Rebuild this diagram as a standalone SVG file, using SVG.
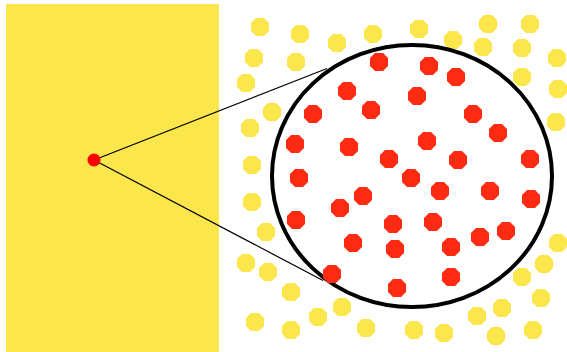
<svg xmlns="http://www.w3.org/2000/svg" width="567" height="352" viewBox="0 0 567 352">
<style>
.y{fill:#FBE64B}
.r{fill:#FF2A12}
.lens{fill:none;stroke:#000;stroke-width:4}
.ray{stroke:#000;stroke-width:1.2;fill:none}
</style>
<defs>
<path id="d" d="M-4,-9 H4 L9,-4 V4 L4,9 H-4 L-9,4 V-4 Z" stroke-linejoin="round"/>
</defs>
<rect width="567" height="352" fill="#fff"/>
<g id="slab"><rect x="6" y="4" width="213" height="348" class="y"/></g>
<g id="yellow-dots" class="y">
<use href="#d" x="260" y="27"/><use href="#d" x="300" y="34"/><use href="#d" x="337" y="43"/><use href="#d" x="373" y="34"/>
<use href="#d" x="254" y="58"/><use href="#d" x="296" y="62"/><use href="#d" x="246" y="83"/><use href="#d" x="272" y="112"/>
<use href="#d" x="250" y="128"/><use href="#d" x="252" y="165"/>
<use href="#d" x="419" y="29"/><use href="#d" x="453" y="40"/><use href="#d" x="488" y="24"/><use href="#d" x="530" y="24"/>
<use href="#d" x="483" y="47"/><use href="#d" x="522" y="48"/><use href="#d" x="557" y="58"/><use href="#d" x="522" y="77"/>
<use href="#d" x="558" y="89"/><use href="#d" x="556" y="122"/>
<use href="#d" x="252" y="202"/><use href="#d" x="266" y="232"/><use href="#d" x="246" y="263"/><use href="#d" x="268" y="272"/>
<use href="#d" x="291" y="292"/><use href="#d" x="342" y="307"/><use href="#d" x="318" y="317"/><use href="#d" x="255" y="322"/>
<use href="#d" x="291" y="330"/><use href="#d" x="366" y="328"/>
<use href="#d" x="558" y="243"/><use href="#d" x="544" y="264"/><use href="#d" x="522" y="277"/><use href="#d" x="541" y="298"/>
<use href="#d" x="502" y="308"/><use href="#d" x="477" y="316"/><use href="#d" x="414" y="330"/><use href="#d" x="444" y="333"/>
<use href="#d" x="496" y="336"/><use href="#d" x="533" y="330"/>
</g>
<g id="lens"><ellipse cx="412" cy="176" rx="140" ry="131" class="lens"/></g>
<g id="connectors">
<line x1="94" y1="160" x2="327" y2="68.5" class="ray"/>
<line x1="94" y1="160" x2="323" y2="280.5" class="ray"/>
</g>
<g id="point"><circle cx="94" cy="160" r="6.5" fill="#FF0000"/></g>
<g id="red-dots" class="r">
<use href="#d" x="379" y="62"/><use href="#d" x="347" y="91"/><use href="#d" x="313" y="114"/><use href="#d" x="371" y="110"/>
<use href="#d" x="295" y="144"/><use href="#d" x="349" y="147"/><use href="#d" x="389" y="159"/><use href="#d" x="299" y="178"/>
<use href="#d" x="429" y="66"/><use href="#d" x="456" y="77"/><use href="#d" x="417" y="96"/><use href="#d" x="473" y="114"/>
<use href="#d" x="498" y="133"/><use href="#d" x="427" y="141"/><use href="#d" x="458" y="160"/><use href="#d" x="530" y="159"/>
<use href="#d" x="363" y="196"/><use href="#d" x="340" y="208"/><use href="#d" x="296" y="220"/><use href="#d" x="353" y="243"/>
<use href="#d" x="332" y="274"/>
<use href="#d" x="411" y="178"/><use href="#d" x="440" y="191"/><use href="#d" x="490" y="191"/><use href="#d" x="531" y="199"/>
<use href="#d" x="393" y="224"/><use href="#d" x="433" y="222"/><use href="#d" x="480" y="237"/><use href="#d" x="506" y="231"/>
<use href="#d" x="395" y="249"/><use href="#d" x="451" y="247"/><use href="#d" x="451" y="277"/><use href="#d" x="397" y="288"/>
</g>
</svg>
